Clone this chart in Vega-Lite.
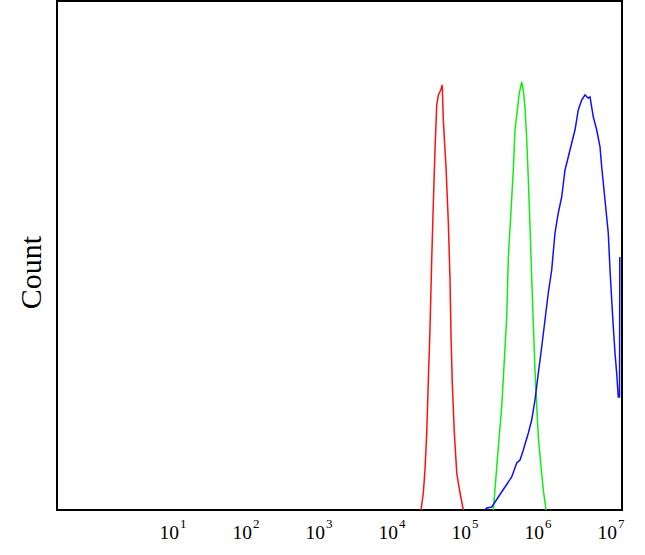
{
  "$schema": "https://vega.github.io/schema/vega-lite/v6.json",
  "width": 565,
  "height": 509,
  "autosize": "none",
  "padding": {"left": 57, "top": 1, "right": 23, "bottom": 45},
  "background": "white",
  "config": {"view": {"stroke": "black", "strokeWidth": 2}},
  "data": {"values": [
    {"s":"red","x":4.425,"y":0},{"s":"red","x":4.456,"y":17},{"s":"red","x":4.479,"y":40},{"s":"red","x":4.503,"y":77},{"s":"red","x":4.525,"y":130},{"s":"red","x":4.548,"y":182},{"s":"red","x":4.571,"y":250},{"s":"red","x":4.593,"y":305},{"s":"red","x":4.616,"y":360},{"s":"red","x":4.64,"y":405},{"s":"red","x":4.662,"y":415},{"s":"red","x":4.695,"y":420},{"s":"red","x":4.716,"y":425},{"s":"red","x":4.73,"y":390},{"s":"red","x":4.767,"y":343},{"s":"red","x":4.799,"y":287},{"s":"red","x":4.822,"y":230},{"s":"red","x":4.836,"y":173},{"s":"red","x":4.853,"y":127},{"s":"red","x":4.881,"y":77},{"s":"red","x":4.914,"y":37},{"s":"red","x":4.959,"y":17},{"s":"red","x":5.004,"y":0},
    {"s":"green","x":5.415,"y":0},{"s":"green","x":5.448,"y":30},{"s":"green","x":5.484,"y":63},{"s":"green","x":5.53,"y":103},{"s":"green","x":5.566,"y":150},{"s":"green","x":5.599,"y":193},{"s":"green","x":5.621,"y":253},{"s":"green","x":5.658,"y":300},{"s":"green","x":5.689,"y":340},{"s":"green","x":5.712,"y":380},{"s":"green","x":5.749,"y":403},{"s":"green","x":5.771,"y":417},{"s":"green","x":5.804,"y":428},{"s":"green","x":5.826,"y":420},{"s":"green","x":5.849,"y":403},{"s":"green","x":5.873,"y":370},{"s":"green","x":5.895,"y":330},{"s":"green","x":5.918,"y":283},{"s":"green","x":5.941,"y":233},{"s":"green","x":5.963,"y":187},{"s":"green","x":5.986,"y":140},{"s":"green","x":6.01,"y":103},{"s":"green","x":6.032,"y":73},{"s":"green","x":6.064,"y":47},{"s":"green","x":6.1,"y":20},{"s":"green","x":6.137,"y":0},
    {"s":"blue","x":5.301,"y":0},{"s":"blue","x":5.325,"y":2},{"s":"blue","x":5.393,"y":3},{"s":"blue","x":5.484,"y":13},{"s":"blue","x":5.575,"y":23},{"s":"blue","x":5.667,"y":33},{"s":"blue","x":5.736,"y":47},{"s":"blue","x":5.781,"y":50},{"s":"blue","x":5.826,"y":60},{"s":"blue","x":5.895,"y":77},{"s":"blue","x":5.941,"y":90},{"s":"blue","x":5.986,"y":110},{"s":"blue","x":6.032,"y":137},{"s":"blue","x":6.078,"y":163},{"s":"blue","x":6.123,"y":190},{"s":"blue","x":6.168,"y":217},{"s":"blue","x":6.215,"y":240},{"s":"blue","x":6.26,"y":277},{"s":"blue","x":6.305,"y":297},{"s":"blue","x":6.352,"y":313},{"s":"blue","x":6.397,"y":340},{"s":"blue","x":6.442,"y":353},{"s":"blue","x":6.489,"y":367},{"s":"blue","x":6.534,"y":380},{"s":"blue","x":6.579,"y":400},{"s":"blue","x":6.626,"y":410},{"s":"blue","x":6.671,"y":415},{"s":"blue","x":6.716,"y":412},{"s":"blue","x":6.74,"y":413},{"s":"blue","x":6.785,"y":393},{"s":"blue","x":6.832,"y":380},{"s":"blue","x":6.877,"y":363},{"s":"blue","x":6.9,"y":343},{"s":"blue","x":6.945,"y":310},{"s":"blue","x":6.99,"y":277},{"s":"blue","x":7.014,"y":240},{"s":"blue","x":7.037,"y":210},{"s":"blue","x":7.059,"y":183},{"s":"blue","x":7.082,"y":157},{"s":"blue","x":7.105,"y":137},{"s":"blue","x":7.127,"y":113},{"s":"blue","x":7.144,"y":113},{"s":"blue","x":7.148,"y":253}
  ]},
  "layer": [
    {
      "mark": {"type": "line", "strokeWidth": 1.5, "clip": true},
      "encoding": {
        "x": {"field": "x", "type": "quantitative",
          "scale": {"domain": [-0.562, 7.178], "nice": false, "zero": false},
          "axis": {"orient": "bottom", "values": [1,2,3,4,5,6,7], "title": null, "domain": false, "ticks": false, "tickSize": 0, "grid": false,
            "labelExpr": "'10'", "labelAlign": "right", "labelOffset": 7.5, "labelBaseline": "alphabetic",
            "labelFont": "Liberation Serif", "labelFontSize": 19.5, "labelColor": "black", "labelPadding": 28}},
        "y": {"field": "y", "type": "quantitative",
          "scale": {"domain": [0, 509], "nice": false},
          "axis": {"title": "Count", "labels": false, "ticks": false, "domain": false, "grid": false,
            "titleFont": "Liberation Serif", "titleFontSize": 30, "titleFontWeight": "normal", "titleColor": "black",
            "titleX": -26, "titleY": 271, "titleAlign": "center", "titleBaseline": "middle", "titleAngle": -90}},
        "color": {"field": "s", "type": "nominal",
          "scale": {"domain": ["red","green","blue"], "range": ["#ff1010","#10ee10","#1010ff"]},
          "legend": null},
        "order": {"field": "x", "type": "quantitative"}
      }
    },
    {
      "mark": {"type": "line", "opacity": 0, "clip": true},
      "encoding": {
        "x": {"field": "x", "type": "quantitative",
          "axis": {"orient": "top", "offset": -526, "values": [1,2,3,4,5,6,7], "title": null, "domain": false, "ticks": false, "tickSize": 0, "grid": false,
            "labelExpr": "format(datum.value, 'd')", "labelAlign": "left", "labelOffset": 8.5, "labelBaseline": "alphabetic",
            "labelFont": "Liberation Serif", "labelFontSize": 13, "labelColor": "black", "labelPadding": 0}},
        "y": {"field": "y", "type": "quantitative"},
        "detail": {"field": "s"}
      }
    }
  ],
  "resolve": {"axis": {"x": "independent"}}
}
